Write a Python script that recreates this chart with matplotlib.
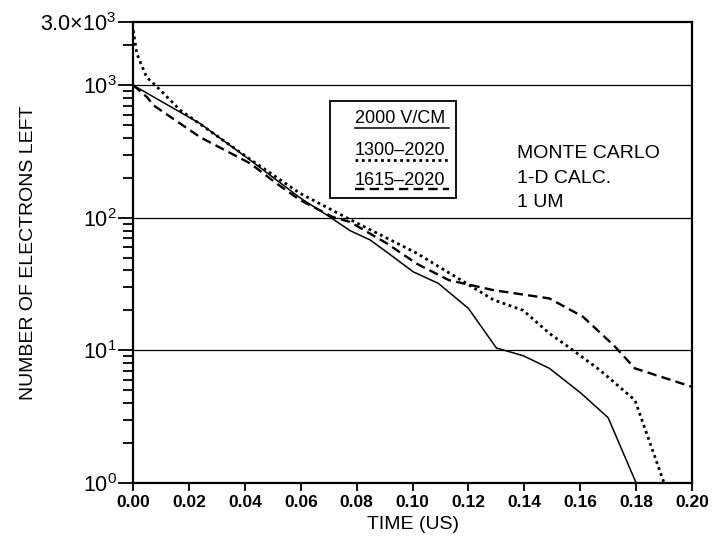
import matplotlib
matplotlib.use("Agg")
from matplotlib import pyplot as plt
from matplotlib.patches import Rectangle
from matplotlib.ticker import FixedLocator, FixedFormatter, NullFormatter

plt.rcParams["font.family"] = ["Liberation Sans", "DejaVu Sans"]
plt.rcParams["mathtext.fontset"] = "custom"
plt.rcParams["mathtext.rm"] = "Liberation Sans"

# curves: time (us) vs. number of electrons left
t_2000 = [0, 0.024, 0.042, 0.060, 0.0705, 0.0776, 0.0848, 0.0908, 0.1003, 0.1092,
          0.120, 0.130, 0.1396, 0.149, 0.160, 0.170, 0.180]
n_2000 = [1000, 513, 271, 140, 101, 80, 68, 55, 39, 32, 20.7, 10.4, 9.1, 7.3, 4.8, 3.1, 1.0]

t_1300 = [0, 0.0013, 0.0048, 0.0073, 0.0168, 0.042, 0.0597, 0.0776, 0.1015, 0.1134,
          0.129, 0.1396, 0.149, 0.155, 0.167, 0.1796, 0.190]
n_1300 = [2600, 1730, 1150, 1030, 650, 275, 153, 97, 54, 38, 24, 20, 13.4, 10.9, 7.1, 4.2, 1.0]

t_1615 = [0, 0.0049, 0.0073, 0.024, 0.0419, 0.0514, 0.0597, 0.0716, 0.0776, 0.0908,
          0.1015, 0.113, 0.129, 0.149, 0.161, 0.172, 0.1796, 0.200]
n_1615 = [1000, 815, 705, 405, 257, 181, 136, 101, 93, 64, 45, 33.8, 28.4, 24.6,
          17.9, 10.9, 7.3, 5.3]

x_ticks = [0.00, 0.02, 0.04, 0.06, 0.08, 0.10, 0.12, 0.14, 0.16, 0.18, 0.20]
y_ticks = [1, 10, 100, 1000, 3000]
y_labels = ["$10^0$", "$10^1$", "$10^2$", "$10^3$", r"$3.0{\times}10^3$"]
legend_names = ["2000 V/CM", "1300\u20132020", "1615\u20132020"]
note_lines = ["MONTE CARLO", "1-D CALC.", "1 UM"]

styles = [dict(ls="-", lw=1.1),
          dict(ls=(0, (1, 1.3)), lw=2.0),
          dict(ls=(0, (4, 2.2)), lw=1.7)]

fig = plt.figure(figsize=(7.2, 5.37), dpi=100)
ax = fig.add_axes([0.185, 0.101, 0.776, 0.858])

for t, n, st in zip([t_2000, t_1300, t_1615], [n_2000, n_1300, n_1615], styles):
    ax.plot(t, n, color="black", **st)

ax.set_yscale("log")
ax.set_xlim(0, 0.20)
ax.set_ylim(1, 3000)

# thin horizontal lines at the decades
for d in [10, 100, 1000]:
    ax.axhline(d, color="black", lw=0.9)

ax.xaxis.set_major_locator(FixedLocator(x_ticks))
ax.set_xticklabels(["%.2f" % v for v in x_ticks], fontsize=12.5, fontweight="bold")
ax.yaxis.set_major_locator(FixedLocator(y_ticks))
ax.yaxis.set_major_formatter(FixedFormatter(y_labels))
minors = [m * 10 ** e for e in range(0, 4) for m in range(2, 10) if m * 10 ** e < 3000]
ax.yaxis.set_minor_locator(FixedLocator(minors))
ax.yaxis.set_minor_formatter(NullFormatter())
ax.tick_params(axis="y", which="major", length=11, width=1.3, labelsize=15.5, pad=1)
ax.tick_params(axis="y", which="minor", length=7, width=1.3)
ax.tick_params(axis="x", which="major", length=6, width=1.3, pad=3)

for s in ax.spines.values():
    s.set_linewidth(1.6)

ax.set_xlabel("TIME (US)", fontsize=14, labelpad=4)
ax.set_ylabel("NUMBER OF ELECTRONS LEFT", fontsize=14)
ax.yaxis.set_label_coords(-0.172, 0.5)

# legend box drawn as in the original: name with a line sample underneath
ax.add_patch(Rectangle((0.352, 0.618), 0.226, 0.211, transform=ax.transAxes,
                       fill=False, lw=1.3, color="black"))
text_y = [0.791, 0.722, 0.657]
line_y = [0.770, 0.700, 0.637]
for name, ty, ly, st in zip(legend_names, text_y, line_y, styles):
    ax.text(0.397, ty, name, transform=ax.transAxes, fontsize=13, va="center", ha="left")
    ax.plot([0.397, 0.566], [ly, ly], transform=ax.transAxes, color="black", **st)

for line, y in zip(note_lines, [0.715, 0.661, 0.609]):
    ax.text(0.687, y, line, transform=ax.transAxes, fontsize=14, va="center", ha="left")

fig.savefig("out.png", dpi=100)
